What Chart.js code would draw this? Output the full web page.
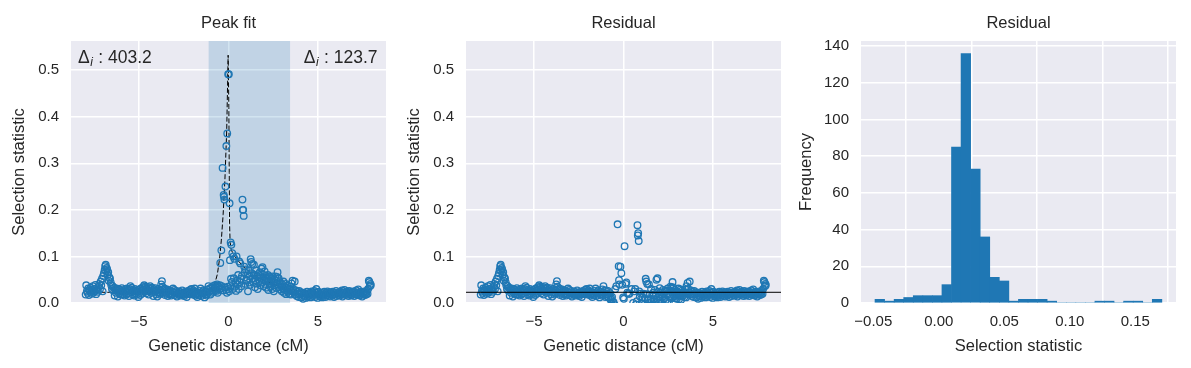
<!DOCTYPE html>
<html>
<head>
<meta charset="utf-8">
<script src="https://cdn.jsdelivr.net/npm/chart.js@4.4.0/dist/chart.umd.min.js"></script>
<style>
  body { margin: 0; background: #fff; }
  #wrap { position: relative; width: 1191px; height: 368px; }
  canvas { position: absolute; top: 0; }
</style>
</head>
<body>
<div id="wrap">
  <canvas id="peakChart" width="395" height="368" style="left:0px"></canvas>
  <canvas id="residChart" width="395" height="368" style="left:395px"></canvas>
  <canvas id="histChart" width="395" height="368" style="left:790px"></canvas>
</div>
<script>
// --- data ---

// genetic distance (cM) / selection statistic, left flank
const leftX = [
  -7.98,-7.95,-7.91,-7.88,-7.84,-7.80,-7.77,-7.73,-7.70,-7.66,
  -7.62,-7.58,-7.55,-7.51,-7.47,-7.44,-7.40,-7.36,-7.33,-7.29,
  -7.25,-7.22,-7.18,-7.14,-7.11,-7.07,-7.03,-7.00,-6.96,-6.92,
  -6.89,-6.86,-6.84,-6.81,-6.78,-6.75,-6.72,-6.69,-6.65,-6.62,
  -6.58,-6.55,-6.51,-6.47,-6.44,-6.40,-6.36,-6.33,-6.29,-6.25,
  -6.22,-6.18,-6.14,-6.11,-6.07,-6.03,-6.00,-5.96,-5.92,-5.89,
  -5.85,-5.81,-5.78,-5.74,-5.70,-5.67,-5.63,-5.59,-5.56,-5.52,
  -5.48,-5.45,-5.41,-5.37,-5.34,-5.30,-5.26,-5.23,-5.19,-5.15,
  -5.12,-5.08,-5.04,-5.01,-4.97,-4.93,-4.90,-4.86,-4.82,-4.79,
  -4.75,-4.71,-4.68,-4.64,-4.60,-4.57,-4.53,-4.49,-4.46,-4.42,
  -4.38,-4.35,-4.31,-4.27,-4.24,-4.20,-4.16,-4.13,-4.09,-4.05,
  -4.02,-3.98,-3.94,-3.91,-3.87,-3.83,-3.80,-3.76,-3.72,-3.69,
  -3.65,-3.61,-3.58,-3.54,-3.50,-3.47,-3.43,-3.39,-3.36,-3.32,
  -3.28,-3.25,-3.21,-3.17,-3.14,-3.10,-3.06,-3.03,-2.99,-2.95,
  -2.92,-2.88,-2.84,-2.81,-2.77,-2.73,-2.70,-2.66,-2.62,-2.59,
  -2.55,-2.51,-2.48,-2.44,-2.40,-2.37,-2.33,-2.29,-2.26,-2.22,
  -2.18,-2.15,-2.11,-2.07,-2.04,-2.00,-1.96,-1.93,-1.89,-1.85,
  -1.82,-1.78,-1.74,-1.71,-1.67,-1.63,-1.60,-1.56,-1.52,-1.49,
  -1.45,-1.41,-1.38,-1.34,-1.30,-1.27,-1.23,-1.19,-1.16,-1.12
];
const leftY = [
  0.018,0.038,0.026,0.022,0.031,0.017,0.028,0.024,0.033,0.020,
  0.027,0.036,0.022,0.030,0.025,0.039,0.019,0.032,0.028,0.024,
  0.035,0.041,0.030,0.046,0.038,0.052,0.025,0.058,0.064,0.071,
  0.079,0.082,0.068,0.075,0.072,0.060,0.066,0.048,0.055,0.052,
  0.044,0.038,0.030,0.036,0.027,0.033,0.016,0.029,0.022,0.031,
  0.026,0.014,0.030,0.021,0.028,0.018,0.025,0.032,0.019,0.027,
  0.022,0.016,0.029,0.024,0.018,0.031,0.021,0.027,0.015,0.030,
  0.036,0.023,0.033,0.019,0.028,0.025,0.016,0.030,0.021,0.026,
  0.018,0.024,0.013,0.028,0.022,0.017,0.031,0.020,0.026,0.034,
  0.029,0.038,0.024,0.035,0.021,0.031,0.027,0.034,0.018,0.025,
  0.036,0.030,0.022,0.033,0.027,0.015,0.029,0.024,0.032,0.019,
  0.026,0.014,0.023,0.030,0.018,0.027,0.021,0.040,0.047,0.035,
  0.028,0.022,0.031,0.017,0.026,0.020,0.029,0.015,0.024,0.019,
  0.027,0.021,0.016,0.025,0.019,0.031,0.023,0.028,0.017,0.022,
  0.026,0.014,0.021,0.018,0.025,0.020,0.016,0.023,0.019,0.027,
  0.017,0.022,0.015,0.020,0.024,0.018,0.013,0.021,0.026,0.019,
  0.023,0.028,0.020,0.030,0.025,0.018,0.027,0.022,0.031,0.016,
  0.024,0.019,0.013,0.021,0.017,0.026,0.020,0.031,0.015,0.023,
  0.018,0.027,0.021,0.012,0.024,0.019,0.016,0.029,0.022,0.036
];

// peak region: raw statistic and residual after the fit
const midX = [
  -1.08,-1.04,-1.01,-0.97,-0.94,-0.90,-0.87,-0.83,-0.80,-0.76,
  -0.73,-0.70,-0.67,-0.64,-0.61,-0.58,-0.55,-0.52,-0.49,-0.46,
  -0.43,-0.40,-0.37,-0.33,-0.30,-0.27,-0.25,-0.23,-0.20,-0.17,
  -0.14,-0.12,-0.09,-0.07,-0.04,-0.02,0.00,0.02,0.04,0.06,
  0.08,0.10,0.12,0.14,0.16,0.19,0.21,0.24,0.27,0.30,
  0.33,0.36,0.39,0.42,0.45,0.48,0.51,0.54,0.57,0.60,
  0.63,0.66,0.69,0.72,0.75,0.78,0.80,0.82,0.85,0.88,
  0.91,0.94,0.97,1.00,1.03,1.06,1.09,1.12,1.15,1.18,
  1.21,1.24,1.27,1.30,1.33,1.36,1.39,1.42,1.45,1.48,
  1.51,1.54,1.57,1.60,1.63,1.66,1.69,1.72,1.75,1.78,
  1.81,1.84,1.87,1.90,1.93,1.96,1.99,2.02,2.05,2.08,
  2.11,2.14,2.17,2.20,2.23,2.26,2.29,2.32,2.35,2.38,
  2.41,2.44,2.47,2.50,2.53,2.56,2.59,2.62,2.65,2.68,
  2.71,2.74,2.77,2.80,2.83,2.86,2.89,2.92,2.95,2.98,
  3.01,3.04,3.07,3.10,3.13,3.16,3.19,3.22,3.25,3.28,
  3.31,3.34,3.37,3.40,3.43,3.46,3.49,3.52,3.55,3.58
];
const midY = [
  0.025,0.031,0.018,0.033,0.022,0.027,0.036,0.024,0.031,0.038,
  0.028,0.034,0.026,0.040,0.022,0.032,0.035,0.029,0.038,0.086,
  0.031,0.113,0.036,0.290,0.027,0.232,0.228,0.222,0.033,0.250,
  0.028,0.337,0.022,0.364,0.035,0.491,0.030,0.491,0.025,0.214,
  0.092,0.036,0.130,0.052,0.125,0.045,0.107,0.030,0.100,0.053,
  0.095,0.035,0.044,0.026,0.100,0.048,0.040,0.060,0.030,0.089,
  0.045,0.085,0.052,0.036,0.058,0.222,0.200,0.200,0.187,0.078,
  0.066,0.041,0.072,0.050,0.048,0.062,0.025,0.070,0.044,0.058,
  0.039,0.094,0.088,0.064,0.084,0.052,0.045,0.082,0.060,0.034,
  0.049,0.070,0.042,0.058,0.030,0.062,0.055,0.047,0.066,0.038,
  0.054,0.074,0.044,0.077,0.061,0.036,0.050,0.068,0.041,0.058,
  0.033,0.052,0.046,0.060,0.028,0.049,0.040,0.056,0.035,0.046,
  0.053,0.030,0.057,0.044,0.025,0.051,0.038,0.057,0.048,0.032,
  0.056,0.066,0.040,0.053,0.034,0.047,0.029,0.042,0.036,0.025,
  0.040,0.031,0.046,0.022,0.035,0.028,0.041,0.019,0.033,0.026,
  0.037,0.024,0.031,0.020,0.028,0.035,0.018,0.042,0.025,0.048
];
const midResid = [
  0.022,0.027,0.013,0.027,0.015,0.019,0.026,0.012,0.017,0.021,
  0.008,0.011,0.000,0.013,-0.006,0.002,0.001,-0.008,-0.004,0.030,
  -0.030,0.036,-0.060,0.169,-0.120,0.079,0.049,0.040,-0.200,0.078,
  -0.300,0.064,-0.400,0.039,-0.450,0.012,-0.480,0.009,-0.350,0.122,
  -0.080,-0.140,0.041,-0.060,0.044,-0.050,0.022,-0.070,0.020,-0.030,
  0.020,-0.040,-0.030,-0.048,0.030,-0.020,-0.027,0.000,-0.035,0.025,
  -0.012,0.030,-0.003,-0.020,0.004,0.167,0.145,0.150,0.133,0.025,
  0.014,-0.012,0.020,0.000,-0.002,0.012,-0.024,0.020,-0.004,0.010,
  -0.010,0.052,0.046,0.019,0.041,0.008,0.000,0.040,0.018,-0.008,
  0.008,0.030,0.002,0.018,-0.010,0.022,0.016,0.008,0.028,0.000,
  0.017,0.050,0.007,0.053,0.024,0.000,0.014,0.032,0.005,0.023,
  -0.001,0.018,0.013,0.028,-0.004,0.018,0.010,0.026,0.006,0.018,
  0.026,0.003,0.031,0.019,0.001,0.027,0.015,0.035,0.026,0.010,
  0.034,0.045,0.019,0.033,0.014,0.028,0.010,0.024,0.019,0.009,
  0.024,0.016,0.031,0.008,0.021,0.015,0.029,0.007,0.022,0.016,
  0.028,0.016,0.023,0.013,0.021,0.029,0.012,0.036,0.020,0.043
];

// right flank
const rightX = [
  3.62,3.66,3.70,3.73,3.77,3.81,3.84,3.88,3.92,3.95,
  3.99,4.03,4.06,4.10,4.14,4.17,4.21,4.25,4.28,4.32,
  4.36,4.39,4.43,4.47,4.50,4.54,4.58,4.61,4.65,4.69,
  4.72,4.76,4.80,4.83,4.87,4.91,4.94,4.98,5.02,5.05,
  5.09,5.13,5.16,5.20,5.24,5.27,5.31,5.35,5.38,5.42,
  5.46,5.49,5.53,5.57,5.60,5.64,5.68,5.71,5.75,5.79,
  5.82,5.86,5.90,5.93,5.97,6.01,6.04,6.08,6.12,6.15,
  6.19,6.23,6.26,6.30,6.34,6.37,6.41,6.45,6.48,6.52,
  6.56,6.59,6.63,6.67,6.70,6.74,6.78,6.81,6.85,6.89,
  6.92,6.96,7.00,7.03,7.07,7.11,7.14,7.18,7.22,7.25,
  7.29,7.33,7.36,7.40,7.44,7.47,7.51,7.55,7.58,7.62,
  7.66,7.69,7.73,7.77,7.80,7.84,7.87,7.90,7.93,7.95
];
const rightY = [
  0.030,0.022,0.046,0.018,0.027,0.015,0.024,0.020,0.013,0.026,
  0.019,0.023,0.012,0.021,0.017,0.009,0.022,0.015,0.020,0.011,
  0.018,0.024,0.014,0.020,0.016,0.022,0.012,0.019,0.025,0.015,
  0.021,0.017,0.026,0.013,0.023,0.030,0.019,0.011,0.024,0.016,
  0.020,0.014,0.022,0.018,0.012,0.021,0.016,0.024,0.019,0.013,
  0.022,0.017,0.025,0.015,0.020,0.023,0.014,0.019,0.021,0.016,
  0.024,0.018,0.013,0.022,0.019,0.026,0.015,0.021,0.017,0.023,
  0.020,0.016,0.024,0.019,0.027,0.014,0.022,0.018,0.028,0.021,
  0.017,0.025,0.020,0.023,0.015,0.026,0.019,0.022,0.016,0.024,
  0.018,0.021,0.025,0.015,0.023,0.019,0.027,0.017,0.022,0.029,
  0.020,0.016,0.024,0.018,0.023,0.014,0.021,0.019,0.025,0.017,
  0.022,0.018,0.026,0.020,0.030,0.048,0.045,0.036,0.041,0.038
];

// dashed peak fit curve
const fitX = [-7.98,-2.0,-1.4,-1.1,-0.9,-0.75,-0.62,-0.5,-0.4,-0.3,-0.2,-0.1,-0.02,
              0.02,0.04,0.06,0.09,0.15,0.25,0.4,0.6,0.8,1.0,1.3,1.7,2.15,2.5,2.86,3.3,3.84,4.4,5.0,7.95];
const fitY = [0.023,0.023,0.024,0.027,0.033,0.044,0.062,0.095,0.135,0.19,0.265,0.37,0.532,
              0.42,0.28,0.17,0.13,0.115,0.106,0.097,0.088,0.08,0.073,0.064,0.055,0.046,0.04,0.035,0.029,0.025,0.023,0.023,0.023];

const baseline = 0.023;
const spanStart = -1.11, spanEnd = 3.44;
const deltaLeft = '403.2', deltaRight = '123.7';

// histogram of residuals
const histCounts = [2,1,2,3,4,4,4,10,85,136,73,36,14,12,1,2,2,2,1,0,0,0,0,1,1,0,1,1,0,2];
const histStart = -0.0487, histBinWidth = 0.0073;

// axes
const distRange = [-8.8, 8.8];
const selRange = [0, 0.5625];
const statRange = [-0.0594, 0.1811];
const freqRange = [0, 142.8];
const distTicks = [-5, 0, 5];
const selTicks = [0, 0.1, 0.2, 0.3, 0.4, 0.5];
const statTicks = [-0.05, 0, 0.05, 0.10, 0.15];
const freqTicks = [0, 20, 40, 60, 80, 100, 120, 140];

// --- styling ---
const TEXT = '#262626';
const BLUE = '#1f77b4';
const FONT = '"Liberation Sans", Arial, sans-serif';
Chart.defaults.font.family = FONT;
Chart.defaults.color = TEXT;

const minus = s => s.replace('-', '\u2212');

// grey plot background + panel title centred over the plot area
const plotFrame = {
  id: 'plotFrame',
  beforeDraw(chart, args, opts) {
    const { ctx, chartArea: a } = chart;
    ctx.save();
    ctx.fillStyle = '#eaeaf2';
    ctx.fillRect(a.left, a.top, a.right - a.left, a.bottom - a.top);
    ctx.fillStyle = TEXT;
    ctx.font = '16.5px ' + FONT;
    ctx.textAlign = 'center';
    ctx.textBaseline = 'middle';
    ctx.fillText(opts.title, (a.left + a.right) / 2, 23);
    ctx.restore();
  }
};

function xAxis(range, ticks, fmt, title) {
  return {
    type: 'linear', min: range[0], max: range[1],
    afterBuildTicks: s => { s.ticks = ticks.map(v => ({ value: v })); },
    afterFit: s => { s.height = 65; },
    grid: { color: '#fff', lineWidth: 1.5, drawTicks: false },
    border: { display: false },
    ticks: { color: TEXT, font: { size: 15 }, padding: 10, maxRotation: 0, autoSkip: false, callback: fmt },
    title: { display: true, text: title, color: TEXT, font: { size: 16.5 }, padding: { top: 0, bottom: 12 } }
  };
}

function yAxis(range, ticks, fmt, title, titlePad) {
  return {
    type: 'linear', min: range[0], max: range[1],
    afterBuildTicks: s => { s.ticks = ticks.map(v => ({ value: v })); },
    afterFit: s => { s.width = 71; },
    grid: { color: '#fff', lineWidth: 1.5, drawTicks: false },
    border: { display: false },
    ticks: { color: TEXT, font: { size: 15 }, padding: 12, autoSkip: false, callback: fmt },
    title: { display: true, text: title, color: TEXT, font: { size: 16.5 }, padding: { top: titlePad, bottom: 0 } }
  };
}

const commonOpts = {
  responsive: false,
  animation: false,
  layout: { padding: { left: 0, right: 9, top: 41, bottom: 0 } },
  events: []
};

const distFmt = v => minus(String(v));
const selFmt = v => v.toFixed(1);

const allX = leftX.concat(midX, rightX);
const allY = leftY.concat(midY, rightY);
const allResid = leftY.concat(midResid, rightY);

// 1. Peak fit
const spanPlugin = {
  id: 'span',
  beforeDatasetsDraw(chart) {
    const { ctx, chartArea: a, scales: { x } } = chart;
    const x0 = x.getPixelForValue(spanStart), x1 = x.getPixelForValue(spanEnd);
    ctx.save();
    ctx.fillStyle = 'rgba(31,119,180,0.2)';
    ctx.fillRect(x0, a.top, x1 - x0, a.bottom - a.top);
    ctx.restore();
  }
};

function drawDelta(ctx, x, y, value, alignRight) {
  const bigFont = '17.5px ' + FONT;
  const subFont = 'italic 12px ' + FONT;
  const rest = ' : ' + value;
  ctx.font = bigFont; const w1 = ctx.measureText('\u0394').width;
  ctx.font = subFont; const w2 = ctx.measureText('i').width + 1;
  ctx.font = bigFont; const w3 = ctx.measureText(rest).width;
  const sx = alignRight ? x - (w1 + w2 + w3) : x;
  ctx.fillStyle = TEXT;
  ctx.textBaseline = 'alphabetic';
  ctx.textAlign = 'left';
  ctx.font = bigFont; ctx.fillText('\u0394', sx, y);
  ctx.font = subFont; ctx.fillText('i', sx + w1 + 0.5, y + 3);
  ctx.font = bigFont; ctx.fillText(rest, sx + w1 + w2, y);
}

const deltaPlugin = {
  id: 'delta',
  afterDraw(chart) {
    const { ctx, chartArea: a } = chart;
    ctx.save();
    drawDelta(ctx, a.left + 7, a.top + 22, deltaLeft, false);
    drawDelta(ctx, a.right - 8.5, a.top + 22, deltaRight, true);
    ctx.restore();
  }
};

// open circle markers, like matplotlib's fillstyle='none'
const markerStyle = {
  pointRadius: 3.3, pointBorderWidth: 1.3,
  pointBorderColor: BLUE, pointBackgroundColor: 'rgba(0,0,0,0)',
  clip: 0
};

new Chart(document.getElementById('peakChart').getContext('2d'), {
  type: 'scatter',
  data: {
    datasets: [{
      data: allX.map((x, i) => ({ x: x, y: allY[i] })),
      ...markerStyle
    }, {
      type: 'line',
      data: fitX.map((x, i) => ({ x: x, y: fitY[i] })),
      borderColor: '#000', borderWidth: 1, borderDash: [5, 2.2],
      pointRadius: 0, fill: false, tension: 0, clip: 0
    }]
  },
  options: {
    ...commonOpts,
    plugins: { legend: { display: false }, tooltip: { enabled: false }, plotFrame: { title: 'Peak fit' } },
    scales: {
      x: xAxis(distRange, distTicks, distFmt, 'Genetic distance (cM)'),
      y: yAxis(selRange, selTicks, selFmt, 'Selection statistic', 10)
    }
  },
  plugins: [plotFrame, spanPlugin, deltaPlugin]
});

// 2. Residual scatter
new Chart(document.getElementById('residChart').getContext('2d'), {
  type: 'scatter',
  data: {
    datasets: [{
      type: 'line',
      data: distRange.map(x => ({ x: x, y: baseline })),
      borderColor: '#000', borderWidth: 1, pointRadius: 0, fill: false, clip: 0
    }, {
      data: allX.map((x, i) => ({ x: x, y: allResid[i] })),
      ...markerStyle
    }]
  },
  options: {
    ...commonOpts,
    plugins: { legend: { display: false }, tooltip: { enabled: false }, plotFrame: { title: 'Residual' } },
    scales: {
      x: xAxis(distRange, distTicks, distFmt, 'Genetic distance (cM)'),
      y: yAxis(selRange, selTicks, selFmt, 'Selection statistic', 10)
    }
  },
  plugins: [plotFrame]
});

// 3. Residual histogram
new Chart(document.getElementById('histChart').getContext('2d'), {
  type: 'bar',
  data: {
    datasets: [{
      data: histCounts.map((c, i) => ({ x: histStart + (i + 0.5) * histBinWidth, y: c })),
      backgroundColor: BLUE, borderWidth: 0,
      barPercentage: 1, categoryPercentage: 1
    }]
  },
  options: {
    ...commonOpts,
    plugins: { legend: { display: false }, tooltip: { enabled: false }, plotFrame: { title: 'Residual' } },
    scales: {
      x: { ...xAxis(statRange, statTicks, v => minus(v.toFixed(2)), 'Selection statistic'), offset: false },
      y: yAxis(freqRange, freqTicks, v => String(v), 'Frequency', 7)
    }
  },
  plugins: [plotFrame]
});
</script>
</body>
</html>
